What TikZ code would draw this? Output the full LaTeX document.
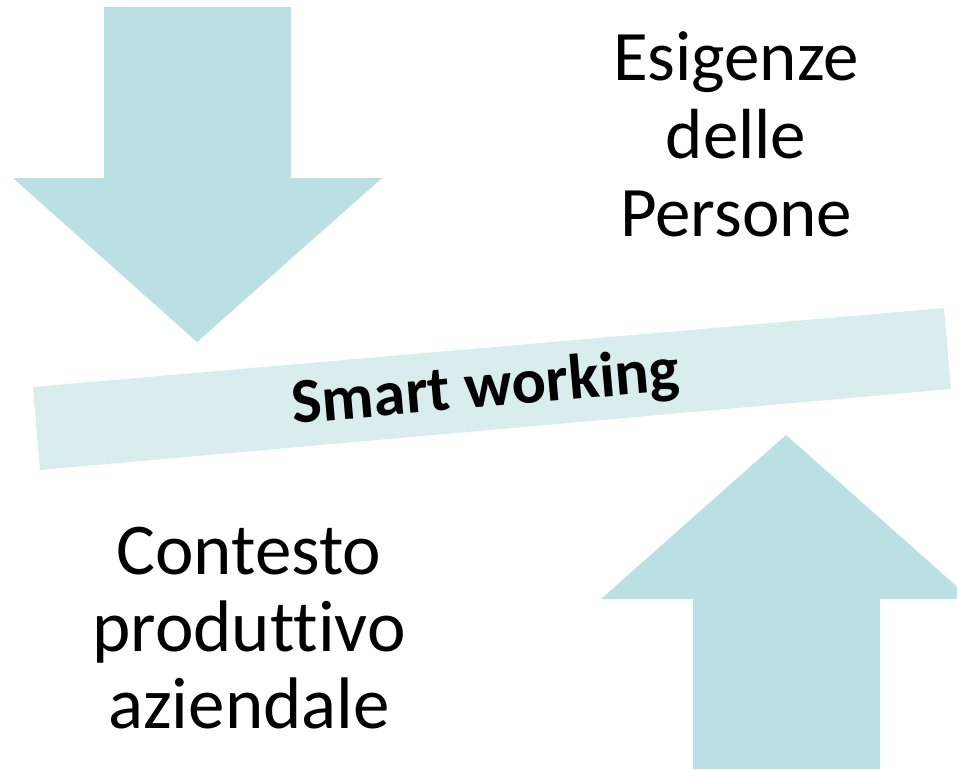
\documentclass[tikz,border=0pt]{standalone}
\usepackage{fontspec}
\setmainfont[Ligatures=NoCommon]{Carlito}
\definecolor{arrowfill}{HTML}{BBE0E3}
\definecolor{barfill}{HTML}{DAEDEE}
\begin{document}
\begin{tikzpicture}[x=1pt,y=-1pt,
  bigtext/.style={anchor=base,inner sep=0pt,font=\fontsize{71}{78}\selectfont},
  bigtextb/.style={anchor=base,inner sep=0pt,font=\fontsize{73}{78}\selectfont},
  bartext/.style={inner sep=0pt,font=\fontsize{64}{70}\selectfont\bfseries}]
\useasboundingbox (0,0) rectangle (957,769);
\clip (0,0) rectangle (957,769);
% down arrow
\fill[arrowfill] (104,7) -- (291,7) -- (291,178) -- (382,178) -- (197,342) -- (13,178) -- (104,178) -- cycle;
% up arrow
\fill[arrowfill] (693,769) -- (693,599) -- (601,599) -- (786,435) -- (971,599) -- (880,599) -- (880,769) -- cycle;
% bar
\fill[barfill] (33,387) -- (944,308) -- (951,389) -- (40,470) -- cycle;
\node[bartext,rotate=4.96] (sw) at (486,390) {Smart working};
% texts
\node[bigtext] (e1) at (736,80) {Esigenze};
\node[bigtext] (e2) at (736,158) {delle};
\node[bigtext] (e3) at (736,236) {Persone};
\node[bigtextb] (c1) at (249,574) {Contesto};
\node[bigtextb] (c2) at (249,651) {produttivo};
\node[bigtextb] (c3) at (249,728) {aziendale};
\end{tikzpicture}
\end{document}
